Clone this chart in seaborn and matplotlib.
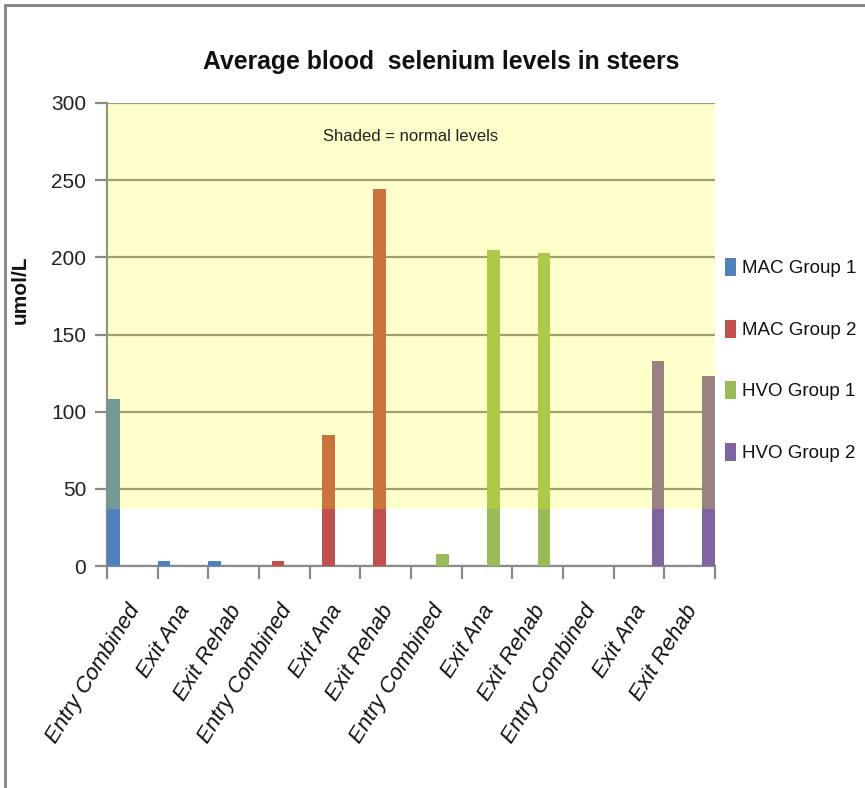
import matplotlib
matplotlib.use("Agg")
import matplotlib.pyplot as plt
import matplotlib.transforms as mtransforms
from matplotlib.patches import Patch
from matplotlib.lines import Line2D
import seaborn as sns
import pandas as pd

# ---------------- data ----------------
categories = ["Entry Combined", "Exit Ana", "Exit Rehab",
              "Entry Combined", "Exit Ana", "Exit Rehab",
              "Entry Combined", "Exit Ana", "Exit Rehab",
              "Entry Combined", "Exit Ana", "Exit Rehab"]
series_names = ["MAC Group 1", "MAC Group 2", "HVO Group 1", "HVO Group 2"]
mac_group_1 = [108, 3, 3, 0, 0, 0, 0, 0, 0, 0, 0, 0]
mac_group_2 = [0, 0, 0, 3, 85, 244, 0, 0, 0, 0, 0, 0]
hvo_group_1 = [0, 0, 0, 0, 0, 0, 8, 205, 203, 0, 0, 0]
hvo_group_2 = [0, 0, 0, 0, 0, 0, 0, 0, 0, 0, 133, 123]
series_colors = ["#4F81BD", "#C0504D", "#9BBB59", "#8064A2"]
normal_low, normal_high = 37, 300
y_ticks = [0, 50, 100, 150, 200, 250, 300]
title = "Average blood  selenium levels in steers"
y_label = "umol/L"
note = "Shaded = normal levels"

slots = [f"s{i}" for i in range(len(categories))]
rows = []
for name, vals in zip(series_names, [mac_group_1, mac_group_2, hvo_group_1, hvo_group_2]):
    for s, v in zip(slots, vals):
        rows.append({"slot": s, "series": name, "value": v})
df = pd.DataFrame(rows)

# ---------------- fonts ----------------
sns.set_theme(style="white")
plt.rcParams["font.family"] = ["Liberation Sans", "DejaVu Sans"]

# ---------------- figure ----------------
fig = plt.figure(figsize=(8.65, 7.88), dpi=100)
ax = fig.add_axes([107 / 865, 1 - 566 / 788, (715 - 107) / 865, (566 - 103) / 788])

sns.barplot(data=df, x="slot", y="value", hue="series", order=slots,
            hue_order=series_names, palette=series_colors, width=1.0,
            dodge=True, gap=0, saturation=1, errorbar=None, linewidth=0,
            legend=False, ax=ax, zorder=3)

ax.set_xlim(-0.5, len(slots) - 0.5)
ax.set_ylim(0, 300)
ax.set_yticks(y_ticks)
ax.set_yticklabels([str(t) for t in y_ticks], fontsize=15, color="#222222")
ax.yaxis.grid(True, color="#8A8A8A", linewidth=1.6, zorder=0)
ax.set_axisbelow(True)

# normal-range shading over everything
ax.axhspan(normal_low, normal_high, color="#FFFF00", alpha=0.2, zorder=5, linewidth=0)

# spines
for side in ["top", "right"]:
    ax.spines[side].set_visible(False)
for side in ["left", "bottom"]:
    ax.spines[side].set_color("#8A8A8A")
    ax.spines[side].set_linewidth(1.6)

# ticks
ax.tick_params(axis="y", which="major", length=9, width=1.6, color="#8A8A8A",
               left=True, pad=6)
ax.set_xticks(range(len(slots)))
ax.set_xticks([i - 0.5 for i in range(len(slots) + 1)], minor=True)
ax.tick_params(axis="x", which="minor", length=9, width=1.6, color="#8A8A8A", bottom=True)
ax.tick_params(axis="x", which="major", length=0, pad=29)
ax.set_xticklabels(categories, rotation=58, ha="right", va="center",
                   rotation_mode="anchor", fontsize=16, fontstyle="italic",
                   color="#111111")
shift = mtransforms.ScaledTranslation(3 / 100, 0, fig.dpi_scale_trans)
for lab in ax.get_xticklabels():
    lab.set_transform(lab.get_transform() + shift)
ax.set_xlabel("")

ax.set_ylabel(y_label, fontsize=15, fontweight="bold", color="#111111")
ax.yaxis.set_label_coords((30 - 107) / 608, (566 - 290) / 463)

ax.text(5.5, 278, note, ha="center", va="center", fontsize=12, color="#222222", zorder=6)

fig.text(441 / 865, 1 - 62 / 788, title, ha="center", va="center",
         fontsize=17.8, fontweight="bold", color="#111111")

handles = [Patch(facecolor=c, edgecolor="none") for c in series_colors]
leg = fig.legend(handles, series_names, loc="upper left",
                 bbox_to_anchor=(725 / 865, 1 - 258 / 788), frameon=False,
                 fontsize=13.5, handlelength=0.6, handleheight=1.1,
                 handletextpad=0.3, labelspacing=2.25, borderaxespad=0,
                 borderpad=0)
for t in leg.get_texts():
    t.set_color("#111111")

# outer frame (top and left)
fig.add_artist(Line2D([5 / 865, 1], [1 - 5 / 788, 1 - 5 / 788], color="#8A8A8A",
                      linewidth=2.2, transform=fig.transFigure))
fig.add_artist(Line2D([5 / 865, 5 / 865], [0, 1 - 5 / 788], color="#8A8A8A",
                      linewidth=2.2, transform=fig.transFigure))

fig.savefig("out.png", dpi=100)
